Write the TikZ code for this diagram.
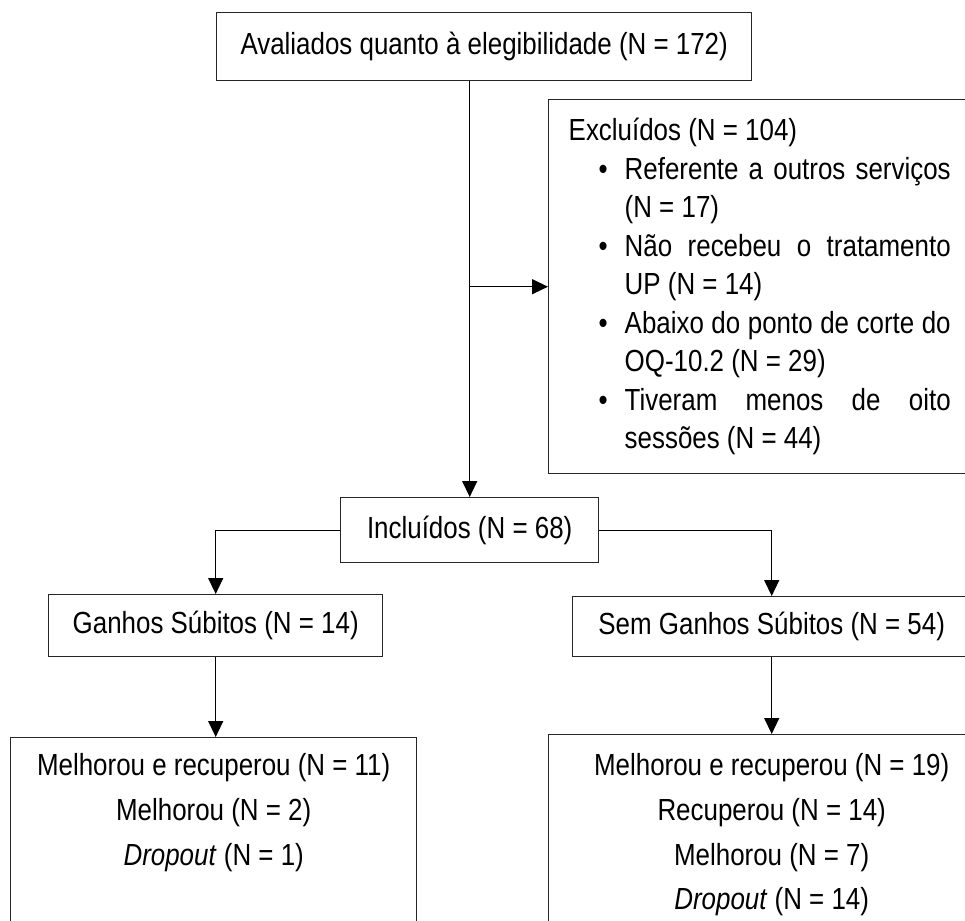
\documentclass[tikz,border=0pt]{standalone}
\usepackage{fontspec}
\setmainfont{Liberation Sans}[FakeStretch=0.85]
\usepackage{enumitem}
\usetikzlibrary{arrows.meta}

\begin{document}
\begin{tikzpicture}[x=1pt, y=-1pt,
    box/.style={draw=black!85, line width=1.4pt, anchor=north west, inner sep=0pt,
      font=\fontsize{30.5}{38.5}\selectfont},
    result/.style={box, font=\fontsize{30.5}{44.6}\selectfont},
    flow/.style={draw=black, line width=1.4pt, -{Triangle[length=16pt, width=15pt]}}]
  \useasboundingbox (0,0) rectangle (965,920);
  \clip (0,0) rectangle (965,920);
  % Boxes, placed by their top-left corners (y grows downwards).
  \node[box, minimum width=535pt, minimum height=68pt] (aval) at (216,12)
    {Avaliados quanto à elegibilidade (N = 172)};
  \node[box, minimum height=374pt, text width=382pt, inner xsep=20pt, align=justify]
    (excl) at (548,99)
    {\noindent\hyphenpenalty=10000 Excluídos (N = 104)
     \begin{itemize}[leftmargin=56pt, labelsep=17pt, nosep]
       \item Referente a outros serviços\linebreak (N = 17)
       \item Não recebeu o tratamento\linebreak UP (N = 14)
       \item Abaixo do ponto de corte do\linebreak OQ-10.2 (N = 29)
       \item Tiveram menos de oito\linebreak sessões (N = 44)
     \end{itemize}};
  \node[box, minimum width=258pt, minimum height=65pt] (incl) at (340,497)
    {Incluídos (N = 68)};
  \node[box, minimum width=334pt, minimum height=62pt] (ganhos) at (48,594)
    {Ganhos Súbitos (N = 14)};
  \node[box, minimum width=398pt, minimum height=60pt] (semg) at (572,596)
    {Sem Ganhos Súbitos (N = 54)};
  \node[result] (resg) at (10,737)
    {\parbox[t][220pt][t]{406pt}{\centering\vspace*{16pt}%
      Melhorou e recuperou (N = 11)\\
      Melhorou (N = 2)\\
      \textit{Dropout} (N = 1)}};
  \node[result] (ress) at (548,734)
    {\parbox[t][220pt][t]{446pt}{\centering\vspace*{19pt}%
      Melhorou e recuperou (N = 19)\\
      Recuperou (N = 14)\\
      Melhorou (N = 7)\\
      \textit{Dropout} (N = 14)}};
  % Connectors.
  \coordinate (split) at (incl.north |- excl.west);
  \draw[flow] (aval.south -| incl.north) -- (incl.north);
  \draw[flow] (split) -- (excl.west);
  \draw[flow] (incl.west) -| (ganhos.north);
  \draw[flow] (incl.east) -| (semg.north);
  \draw[flow] (ganhos.south) -- (ganhos.south |- resg.north);
  \draw[flow] (semg.south) -- (semg.south |- ress.north);
\end{tikzpicture}
\end{document}
